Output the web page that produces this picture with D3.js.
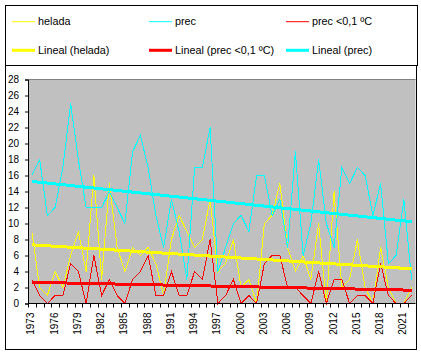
<!DOCTYPE html>
<html>
<head>
<meta charset="utf-8">
<script src="https://cdn.jsdelivr.net/npm/d3@7"></script>
<style>
  body { margin: 0; background: #fff; }
  text { font-family: "Liberation Sans", Arial, sans-serif; fill: #000; }
</style>
</head>
<body>
<div id="chart"></div>
<script>
// categories
const years = d3.range(1973, 2023)
const yearLabels = years.filter((d, i) => i % 3 === 0)
const yTicks = d3.range(0, 29, 2)

// series (days per year)
const helada = [
  9, 2, 1, 4, 2, 6, 9, 4, 16, 3,
  15, 7, 4, 7, 6, 7, 5, 1, 8, 11,
  9, 7, 8, 13, 4, 5, 8, 2, 3, 0,
  10, 11, 15, 7, 4, 6, 3, 10, 0, 14,
  2, 3, 8, 2, 0, 7, 2, 0, 0, 2
]
const prec = [
  16, 18, 11, 12, 17, 25, 18, 12, 12, 12,
  14, 12, 10, 19, 21, 17, 11, 7, 13, 9,
  3, 17, 17, 22, 4, 7, 10, 11, 9, 16,
  16, 11, 13, 7, 19, 6, 10, 18, 10, 7,
  17, 15, 17, 16, 11, 15, 5, 6, 13, 3
]
const precBajo = [
  3, 1, 0, 1, 1, 5, 4, 0, 6, 1,
  3, 1, 0, 3, 4, 6, 1, 1, 4, 1,
  1, 4, 3, 8, 0, 1, 3, 0, 1, 0,
  5, 6, 6, 2, 2, 1, 0, 4, 0, 3,
  3, 0, 1, 1, 0, 5, 1, 0, 0, 1
]

const series = [
  { name: 'helada', values: helada, color: '#ffff00' },
  { name: 'prec', values: prec, color: '#00ffff' },
  { name: 'prec <0,1 ºC', values: precBajo, color: '#ff0000' }
]

// legend in the order excel shows it
const legendItems = [
  { name: 'helada', color: '#ffff00', w: 1 },
  { name: 'prec', color: '#00ffff', w: 1 },
  { name: 'prec <0,1 ºC', color: '#ff0000', w: 1 },
  { name: 'Lineal (helada)', color: '#ffff00', w: 3 },
  { name: 'Lineal (prec <0,1 ºC)', color: '#ff0000', w: 3 },
  { name: 'Lineal (prec)', color: '#00ffff', w: 3 }
]

var W = 421, H = 354
var plot = { left: 28, right: 415.5, top: 79.5, bottom: 303.5 }

var svg = d3.select('#chart').append('svg')
  .attr('width', W)
  .attr('height', H)

svg.append('rect').attr('width', W).attr('height', H).attr('fill', '#fff')

// Scales
var x = d3.scaleBand().domain(years).range([plot.left, plot.right])
var y = d3.scaleLinear().domain([0, 28]).range([plot.bottom, plot.top])
const cx = d => x(d) + x.bandwidth() / 2

// plot area
svg.append('rect')
  .attr('x', plot.left)
  .attr('y', plot.top)
  .attr('width', plot.right - plot.left)
  .attr('height', plot.bottom - plot.top)
  .attr('fill', '#c0c0c0')

svg.append('line')
  .attr('x1', plot.left).attr('x2', plot.right)
  .attr('y1', plot.top).attr('y2', plot.top)
  .attr('stroke', '#808080')

// data lines (aliased like the excel export)
var line = d3.line()
  .x((d, i) => cx(years[i]))
  .y(d => y(d))

svg.append('g')
  .selectAll('path')
  .data(series)
  .enter()
  .append('path')
  .attr('fill', 'none')
  .attr('stroke', d => d.color)
  .attr('stroke-width', 1)
  .attr('shape-rendering', 'crispEdges')
  .attr('d', d => line(d.values))

// linear trend (least squares) for each series
function fit(vals) {
  const n = vals.length
  const mx = d3.mean(vals, (v, i) => i)
  const my = d3.mean(vals)
  let sxy = 0, sxx = 0
  vals.forEach((v, i) => {
    sxy += (i - mx) * (v - my)
    sxx += (i - mx) * (i - mx)
  })
  const b = sxy / sxx
  return [0, n - 1].map(i => [cx(years[i]), y(my + b * (i - mx))])
}

svg.append('g')
  .selectAll('path')
  .data(series)
  .enter()
  .append('path')
  .attr('fill', 'none')
  .attr('stroke', d => d.color)
  .attr('stroke-width', 3)
  .attr('shape-rendering', 'crispEdges')
  .attr('d', d => d3.line()(fit(d.values)))

// y axis
svg.append('g')
  .attr('transform', `translate(${plot.left}, 0)`)
  .call(d3.axisLeft(y).tickValues(yTicks).tickSize(3).tickPadding(6))
  .call(g => g.selectAll('.tick text').style('font-size', '10px').attr('font-family', null))
  .call(g => g.selectAll('path, line').attr('stroke', '#000'))

// x axis: ticks on category edges, labels every 3 years
var xa = svg.append('g')
xa.append('line')
  .attr('x1', plot.left).attr('x2', plot.right)
  .attr('y1', plot.bottom).attr('y2', plot.bottom)
  .attr('stroke', '#000')
xa.selectAll('.xt')
  .data(years.concat([null]))
  .enter()
  .append('line')
  .attr('class', 'xt')
  .attr('x1', (d, i) => Math.round(plot.left + i * x.bandwidth()) + 0.5)
  .attr('x2', (d, i) => Math.round(plot.left + i * x.bandwidth()) + 0.5)
  .attr('y1', plot.bottom)
  .attr('y2', plot.bottom + 4)
  .attr('stroke', '#000')
xa.selectAll('.xl')
  .data(yearLabels)
  .enter()
  .append('text')
  .attr('class', 'xl')
  .attr('transform', d => `translate(${cx(d) + 2.6}, 312.5) rotate(-90)`)
  .attr('text-anchor', 'end')
  .style('font-size', '10px')
  .text(d => d)

// frame
svg.append('rect')
  .attr('x', 5.5).attr('y', 5.5)
  .attr('width', 411).attr('height', 344)
  .attr('fill', 'none')
  .attr('stroke', '#000')

// legend
var lg = svg.append('g')
lg.append('rect')
  .attr('x', 5.5).attr('y', 5.5)
  .attr('width', 412).attr('height', 60)
  .attr('fill', '#fff')
  .attr('stroke', '#000')

var colX = [12, 149, 286]
var rowY = [21.7, 50.3]

var li = lg.selectAll('.li')
  .data(legendItems)
  .enter()
  .append('g')
  .attr('class', 'li')
  .attr('transform', (d, i) => `translate(${colX[i % 3]}, ${rowY[Math.floor(i / 3)]})`)

li.append('line')
  .attr('x1', 0).attr('x2', 23)
  .attr('stroke', d => d.color)
  .attr('stroke-width', d => d.w)

li.append('text')
  .attr('x', 26)
  .attr('dy', '0.35em')
  .style('font-size', '10.8px')
  .text(d => d.name)
</script>
</body>
</html>
